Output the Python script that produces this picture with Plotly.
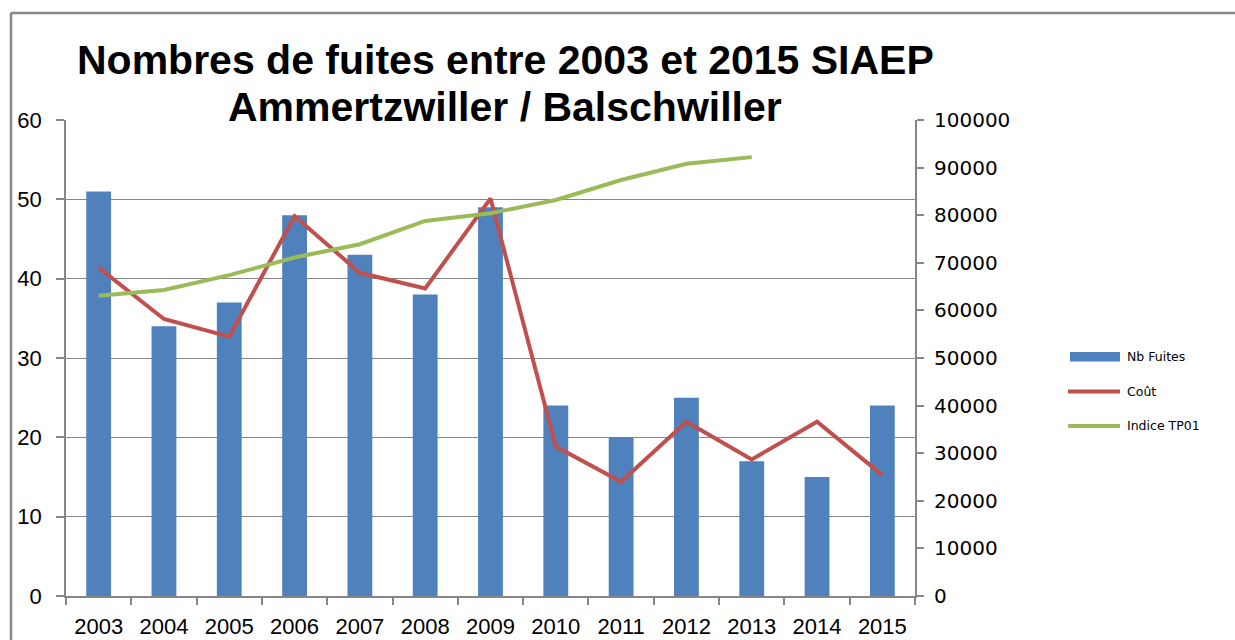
import plotly.graph_objects as go

years = ["2003", "2004", "2005", "2006", "2007", "2008", "2009", "2010", "2011", "2012", "2013", "2014", "2015"]
nb_fuites = [51, 34, 37, 48, 43, 38, 49, 24, 20, 25, 17, 15, 24]
cout = [69000, 58200, 54500, 79800, 67900, 64600, 83500, 31400, 24000, 36600, 28700, 36600, 25400]
indice_tp01 = [63100, 64300, 67400, 71100, 73900, 78800, 80400, 83200, 87400, 90800, 92200, None, None]
series_names = ["Nb Fuites", "Coût", "Indice TP01"]
title_lines = ["Nombres de fuites entre 2003 et 2015 SIAEP", "Ammertzwiller / Balschwiller"]

BLUE = "#4F81BD"
RED = "#C0504D"
GREEN = "#9BBB59"
GRAY = "#868686"

W, H = 1235, 640
L, R, T, B = 66, 915, 120, 596

def px(x):
    return (x - L) / (R - L)

def py(y):
    return (B - y) / (B - T)

fig = go.Figure()
fig.add_trace(go.Bar(x=years, y=nb_fuites, name=series_names[0], marker=dict(color=BLUE, line=dict(width=0)), yaxis="y"))
fig.add_trace(go.Scatter(x=years, y=cout, name=series_names[1], mode="lines", line=dict(color=RED, width=4), yaxis="y2"))
fig.add_trace(go.Scatter(x=years, y=indice_tp01, name=series_names[2], mode="lines", line=dict(color=GREEN, width=4), yaxis="y2", connectgaps=False))

shapes = []
annotations = []
# chart border (left and top)
shapes.append(dict(type="line", xref="paper", yref="paper", x0=px(11), x1=px(11), y0=py(13), y1=py(645), line=dict(color=GRAY, width=2.5)))
shapes.append(dict(type="line", xref="paper", yref="paper", x0=px(11), x1=px(1240), y0=py(13), y1=py(13), line=dict(color=GRAY, width=2.5)))

# title as two centred lines
for line_text, yy in zip(title_lines, [60, 107]):
    annotations.append(dict(text="<b>" + line_text + "</b>", xref="paper", yref="paper", x=px(505), y=py(yy),
                            xanchor="center", yanchor="middle", showarrow=False,
                            font=dict(family="Liberation Sans", size=41, color="#000")))

# custom legend
leg_y = [356.5, 391.5, 426]
shapes.append(dict(type="rect", xref="paper", yref="paper", x0=px(1070), x1=px(1120), y0=py(352), y1=py(361.5), fillcolor=BLUE, line=dict(width=0)))
shapes.append(dict(type="line", xref="paper", yref="paper", x0=px(1068), x1=px(1120), y0=py(leg_y[1]), y1=py(leg_y[1]), line=dict(color=RED, width=4)))
shapes.append(dict(type="line", xref="paper", yref="paper", x0=px(1068), x1=px(1120), y0=py(leg_y[2]), y1=py(leg_y[2]), line=dict(color=GREEN, width=4)))
for name, yy in zip(series_names, leg_y):
    annotations.append(dict(text=name, xref="paper", yref="paper", x=px(1125), y=py(yy), xanchor="left", yanchor="middle", showarrow=False, font=dict(family="DejaVu Sans", size=12.5, color="#000")))

fig.update_layout(
    width=W, height=H,
    margin=dict(l=L, r=W - R, t=T, b=H - B, pad=0, autoexpand=False),
    paper_bgcolor="white", plot_bgcolor="white",
    showlegend=False,
    bargap=0.62,
    xaxis=dict(type="category", showline=True, linecolor=GRAY, linewidth=1.5, ticks="outside", tickson="boundaries",
               ticklen=7, tickcolor=GRAY, tickwidth=1.5, showgrid=False, automargin=False,
               tickfont=dict(family="Liberation Sans", size=22, color="#000"), ticklabelstandoff=10),
    yaxis=dict(range=[0, 60], dtick=10, showline=True, linecolor=GRAY, linewidth=1.5, ticks="outside", ticklen=8,
               tickcolor=GRAY, tickwidth=1.5, showgrid=True, gridcolor=GRAY, gridwidth=1, zeroline=False, automargin=False,
               tickfont=dict(family="Liberation Sans", size=22, color="#000"), ticklabelstandoff=10),
    yaxis2=dict(range=[0, 100000], dtick=10000, tickformat="d", overlaying="y", side="right", showline=True, linecolor=GRAY,
                linewidth=2, ticks="outside", ticklen=7, tickcolor=GRAY, tickwidth=1.5, showgrid=False, zeroline=False,
                automargin=False,
                tickfont=dict(family="DejaVu Sans", size=20, color="#000"), ticklabelstandoff=6),
    shapes=shapes,
    annotations=annotations,
)

fig.write_html("out.html", config={"displayModeBar": False},
               post_script="document.body.style.margin='0';document.body.style.overflow='hidden';")
